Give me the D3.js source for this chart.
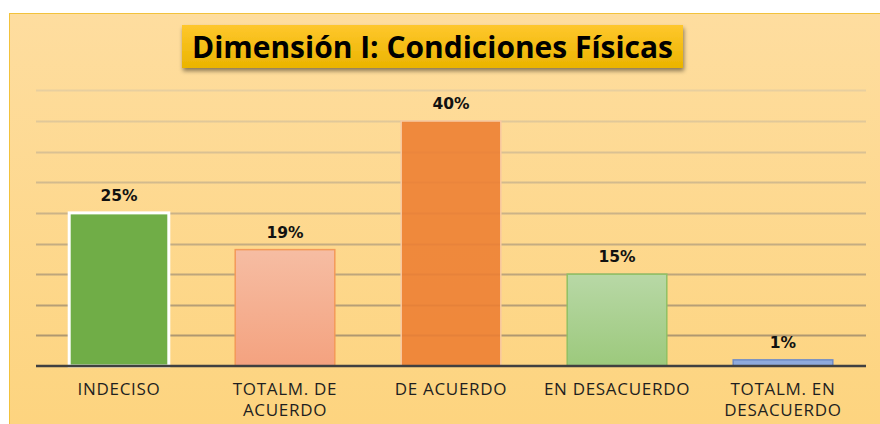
<!DOCTYPE html>
<html>
<head>
<meta charset="utf-8">
<script src="https://cdn.jsdelivr.net/npm/d3@7"></script>
<style>
  html, body { margin: 0; padding: 0; background: #fff; }
  svg { display: block; }
</style>
</head>
<body>
<script>
// chart data
var categories = ["INDECISO", "TOTALM. DE ACUERDO", "DE ACUERDO", "EN DESACUERDO", "TOTALM. EN DESACUERDO"];
var labelLines = [["INDECISO"], ["TOTALM. DE", "ACUERDO"], ["DE ACUERDO"], ["EN DESACUERDO"], ["TOTALM. EN", "DESACUERDO"]];
var values = [25, 19, 40, 15, 1];
var yTicks = [0, 5, 10, 15, 20, 25, 30, 35, 40, 45];
var titleText = "Dimensión I: Condiciones Físicas";

var W = 880, H = 424;
var svg = d3.select("body").append("svg").attr("width", W).attr("height", H);
var defs = svg.append("defs");

function vgrad(id, c1, c2) {
    var g = defs.append("linearGradient").attr("id", id)
        .attr("x1", 0).attr("y1", 0).attr("x2", 0).attr("y2", 1);
    g.append("stop").attr("offset", "0%").attr("stop-color", c1);
    g.append("stop").attr("offset", "100%").attr("stop-color", c2);
    return g;
}
vgrad("bgGrad", "#fedd9f", "#fdd47f");
vgrad("titleGrad", "#ffc72c", "#eab400");
vgrad("pinkGrad", "#f6bda3", "#f4a27f");
vgrad("lgreenGrad", "#b8d8a6", "#9cc97c");

// gridline gradient over the plot height
var gg = defs.append("linearGradient").attr("id", "gridGrad")
    .attr("gradientUnits", "userSpaceOnUse")
    .attr("x1", 0).attr("y1", 90).attr("x2", 0).attr("y2", 366);
gg.append("stop").attr("offset", "0%").attr("stop-color", "#e8cf9f");
gg.append("stop").attr("offset", "100%").attr("stop-color", "#a8916a");

var sh = defs.append("filter").attr("id", "shadow")
    .attr("x", "-10%").attr("y", "-30%").attr("width", "120%").attr("height", "170%");
sh.append("feDropShadow").attr("dx", 1).attr("dy", 3).attr("stdDeviation", 2)
    .attr("flood-color", "#000").attr("flood-opacity", 0.45);

// chart area background
svg.append("rect").attr("x", 9).attr("y", 13).attr("width", W - 9).attr("height", H - 13)
    .attr("fill", "url(#bgGrad)");
svg.append("line").attr("x1", 9).attr("x2", W).attr("y1", 13.5).attr("y2", 13.5)
    .attr("stroke", "#f2c23c").attr("stroke-width", 1);
svg.append("line").attr("x1", 9.5).attr("x2", 9.5).attr("y1", 13).attr("y2", H)
    .attr("stroke", "#f2c23c").attr("stroke-width", 1);

var x = d3.scaleBand().domain(categories).range([36, 866]).paddingInner(0.4).paddingOuter(0.2);
var y = d3.scaleLinear().domain([0, 45]).range([366, 90.4]);

// gridlines
svg.append("g").selectAll("line").data(yTicks.filter(function (d) { return d > 0; }))
    .join("line")
    .attr("x1", 36).attr("x2", 866)
    .attr("y1", function (d) { return Math.round(y(d)) + 0.5; })
    .attr("y2", function (d) { return Math.round(y(d)) + 0.5; })
    .attr("stroke", "url(#gridGrad)").attr("stroke-width", 2);

// bars
var fills = ["#70ad47", "url(#pinkGrad)", "#ed7d31", "url(#lgreenGrad)", "#8faadc"];
var strokes = ["#ffffff", "#f39a5a", "#f8c9a0", "#8fc064", "#6f8cc8"];
var strokeW = [3, 1.5, 1.5, 1.5, 1.5];
var fillOp = [1, 1, 0.88, 1, 1];

svg.append("g").selectAll("rect").data(values).join("rect")
    .attr("x", function (d, i) { return x(categories[i]); })
    .attr("y", function (d) { return y(d); })
    .attr("width", x.bandwidth())
    .attr("height", function (d) { return y(0) - y(d); })
    .attr("fill", function (d, i) { return fills[i]; })
    .attr("fill-opacity", function (d, i) { return fillOp[i]; })
    .attr("stroke", function (d, i) { return strokes[i]; })
    .attr("stroke-width", function (d, i) { return strokeW[i]; });

// baseline
svg.append("line").attr("x1", 36).attr("x2", 866).attr("y1", y(0)).attr("y2", y(0))
    .attr("stroke", "#404040").attr("stroke-width", 2.5);

// value labels
svg.append("g").selectAll("text").data(values).join("text")
    .attr("x", function (d, i) { return x(categories[i]) + x.bandwidth() / 2; })
    .attr("y", function (d) { return y(d) - 12; })
    .attr("text-anchor", "middle")
    .attr("font-family", "DejaVu Sans, Verdana, sans-serif")
    .attr("font-weight", "bold")
    .attr("font-size", 15.5)
    .attr("fill", "#111")
    .text(function (d) { return d + "%"; });

// category labels
var cat = svg.append("g").selectAll("text").data(labelLines).join("text")
    .attr("text-anchor", "middle")
    .attr("font-family", "Open Sans, sans-serif")
    .attr("font-size", 17)
    .attr("letter-spacing", 0.7)
    .attr("fill", "#1f1f1f");
cat.each(function (lines, i) {
    var t = d3.select(this);
    lines.forEach(function (s, k) {
        t.append("tspan")
            .attr("x", x(categories[i]) + x.bandwidth() / 2)
            .attr("y", 395 + k * 21)
            .text(s);
    });
});

// title box
svg.append("rect").attr("x", 182).attr("y", 25).attr("width", 501).attr("height", 43)
    .attr("fill", "url(#titleGrad)").attr("filter", "url(#shadow)");
svg.append("text").attr("x", 432.5).attr("y", 58)
    .attr("text-anchor", "middle")
    .attr("font-family", "Open Sans, sans-serif")
    .attr("font-weight", "bold")
    .attr("font-size", 30.5)
    .attr("fill", "#000")
    .attr("textLength", 481).attr("lengthAdjust", "spacingAndGlyphs")
    .text(titleText);
</script>
</body>
</html>
